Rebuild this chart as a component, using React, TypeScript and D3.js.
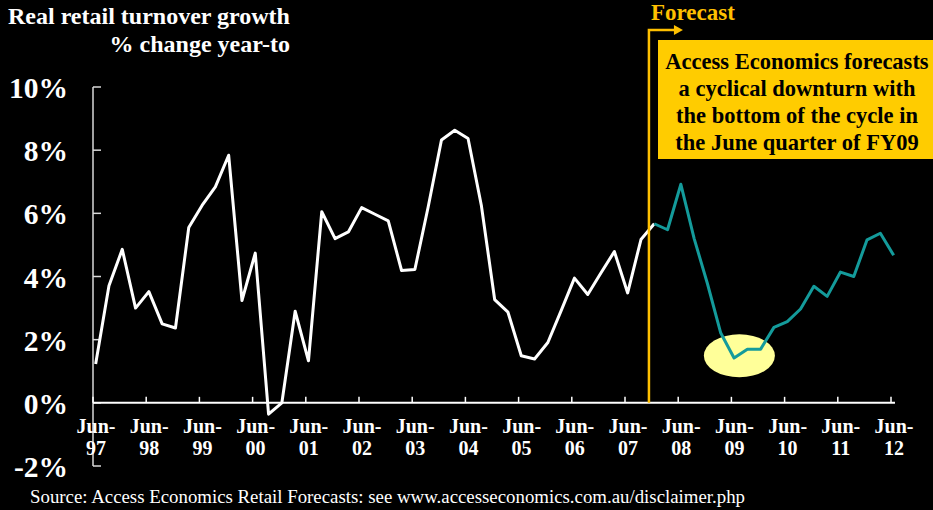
import React from "react";
import * as d3 from "d3";

// Quarterly real retail turnover growth (% change year-to), Jun-97 .. Jun-12
const actualValues: number[] = [
  1.23, 3.71, 4.86, 3.0, 3.52, 2.5, 2.37, 5.55, 6.25, 6.84, 7.84, 3.24, 4.74, -0.36,
  0.0, 2.9, 1.33, 6.05, 5.2, 5.41, 6.18, 5.97, 5.76, 4.19, 4.22, 6.2, 8.32, 8.63,
  8.37, 6.25, 3.27, 2.87, 1.49, 1.39, 1.91, 2.92, 3.95, 3.43, 4.12, 4.79, 3.48, 5.17,
  5.67,
];
// forecast starts at quarter index 42
const forecastStart = 42;
const forecastValues: number[] = [
  5.67, 5.48, 6.92, 5.2, 3.77, 2.21, 1.42, 1.7, 1.7, 2.39, 2.57, 2.97, 3.69, 3.37,
  4.14, 4.0, 5.16, 5.37, 4.67,
];
const yearLabels: string[] = [
  "97", "98", "99", "00", "01", "02", "03", "04", "05", "06", "07", "08", "09", "10", "11", "12",
];
const yTicks: number[] = [-2, 0, 2, 4, 6, 8, 10];
const titleLines: string[] = ["Real retail turnover growth", "% change year-to"];
const noteLines: string[] = [
  "Access Economics forecasts",
  "a cyclical downturn with",
  "the bottom of the cycle in",
  "the June quarter of FY09",
];
const sourceText =
  "Source: Access Economics Retail Forecasts: see www.accesseconomics.com.au/disclaimer.php";

const W = 933;
const H = 510;
const FONT = "'Liberation Serif', 'Times New Roman', serif";

export default function App() {
  const x = d3.scaleLinear().domain([0, 60]).range([93, 891]);
  const y = d3.scaleLinear().domain([-2, 10]).range([466, 87]);
  const pointOffset = 0.2;

  const line = d3
    .line<number>()
    .x((_, i) => x(i + pointOffset))
    .y((d) => y(d));
  const fLine = d3
    .line<number>()
    .x((_, i) => x(i + forecastStart + pointOffset))
    .y((d) => y(d));

  const forecastX = x(41.8);
  const arrowY = 30;
  const ellipseCx = x(48.6);
  const ellipseCy = y(1.49);

  return (
    <svg
      width={W}
      height={H}
      style={{ position: "absolute", left: 0, top: 0, background: "#000" }}
      fontFamily={FONT}
    >
      <rect x={0} y={0} width={W} height={H} fill="#000" />

      {/* Title */}
      <text x={8} y={24} fontSize={24} fontWeight="bold" fill="#fff">
        {titleLines[0]}
      </text>
      <text x={290} y={52} fontSize={24} fontWeight="bold" fill="#fff" textAnchor="end">
        {titleLines[1]}
      </text>

      {/* Y axis */}
      <line x1={x(0)} x2={x(0)} y1={y(10)} y2={y(-2)} stroke="#d9d9d9" strokeWidth={1.5} />
      {yTicks.map((t) => (
        <g key={t}>
          <line x1={x(0)} x2={x(0) + 8} y1={y(t)} y2={y(t)} stroke="#d9d9d9" strokeWidth={1.5} />
          <text
            x={68}
            y={y(t) + 11}
            fontSize={29.5}
            fontWeight="bold"
            fill="#fff"
            textAnchor="end"
          >
            {t}%
          </text>
        </g>
      ))}

      {/* Ellipse highlight */}
      <ellipse
        cx={ellipseCx}
        cy={ellipseCy}
        rx={x(2.67) - x(0)}
        ry={y(0) - y(0.68)}
        fill="#ffff99"
      />

      {/* X axis */}
      <line x1={x(0)} x2={x(60.3)} y1={y(0)} y2={y(0)} stroke="#fff" strokeWidth={2} />
      {yearLabels.map((lab, i) => (
        <g key={lab}>
          <line
            x1={x(i * 4)}
            x2={x(i * 4)}
            y1={y(0)}
            y2={y(0) - 6}
            stroke="#fff"
            strokeWidth={1.5}
          />
          <text
            x={x(i * 4) + 3}
            y={433}
            fontSize={20}
            fontWeight="bold"
            fill="#fff"
            textAnchor="middle"
          >
            Jun-
          </text>
          <text
            x={x(i * 4) + 3}
            y={455}
            fontSize={20}
            fontWeight="bold"
            fill="#fff"
            textAnchor="middle"
          >
            {lab}
          </text>
        </g>
      ))}

      {/* Series */}
      <path d={line(actualValues) || ""} fill="none" stroke="#fff" strokeWidth={3} strokeLinejoin="round" />
      <path d={fLine(forecastValues) || ""} fill="none" stroke="#149b9b" strokeWidth={3} strokeLinejoin="round" />

      {/* Forecast marker */}
      <polyline
        points={`${forecastX},${y(0)} ${forecastX},${arrowY} ${forecastX + 27},${arrowY}`}
        fill="none"
        stroke="#ffc000"
        strokeWidth={2.5}
      />
      <polygon
        points={`${forecastX + 25},${arrowY - 5} ${forecastX + 34},${arrowY} ${forecastX + 25},${arrowY + 5}`}
        fill="#ffc000"
      />
      <text x={651} y={20} fontSize={23} fontWeight="bold" fill="#ffc000">
        Forecast
      </text>

      {/* Note box */}
      <rect x={658} y={40} width={275} height={119} fill="#ffcc00" />
      {noteLines.map((l, i) => (
        <text
          key={i}
          x={797}
          y={69 + i * 27}
          fontSize={22.5}
          fontWeight="bold"
          fill="#000"
          textAnchor="middle"
        >
          {l}
        </text>
      ))}

      {/* Source */}
      <text
        x={30}
        y={503}
        fontSize={18}
        fill="#fff"
        textLength={715}
        lengthAdjust="spacingAndGlyphs"
      >
        {sourceText}
      </text>
    </svg>
  );
}
